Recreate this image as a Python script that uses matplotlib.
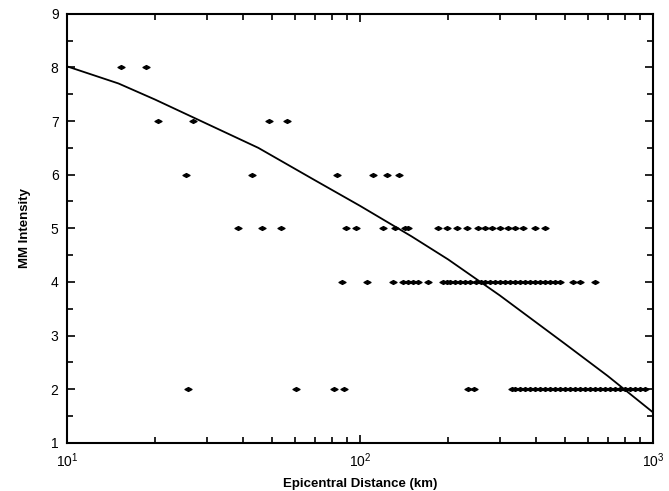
import numpy as np
import matplotlib.pyplot as plt
from matplotlib.path import Path
from matplotlib.ticker import LogLocator, MultipleLocator, FixedLocator

# --- observed intensities (distance in km) ---
r_int8 = [15.3, 18.6]
r_int7 = [20.4, 26.9, 48.8, 56.2]
r_int6 = [25.4, 42.7, 83.2, 111, 124, 136]
r_int5 = [38.5, 46.5, 53.6, 89.3, 96.6, 120, 132, 143, 146, 184, 199, 215, 232,
          253, 268, 283, 301, 321, 339, 361, 396, 429]
r_int4 = [87.1, 106, 130, 140, 146, 152, 158, 171, 192, 199, 203, 211, 220, 229,
          238, 248, 258, 268, 279, 290, 301, 313, 326, 339, 352, 366, 381, 396,
          412, 429, 446, 463, 482, 534, 564, 634]
r_int2 = [26.0, 60.3, 81.3, 87.9, 234, 246, 331, 339, 352, 366, 381, 396, 412,
          429, 446, 463, 482, 501, 521, 542, 564, 586, 610, 634, 659, 686, 713,
          742, 772, 803, 835, 868, 903, 939]

# --- attenuation curve ---
curve_r = [10, 15, 20, 30, 45, 70, 100, 150, 200, 300, 500, 700, 1000]
curve_i = [8.02, 7.70, 7.40, 6.95, 6.50, 5.90, 5.42, 4.85, 4.42, 3.75, 2.85, 2.25, 1.57]

rows = [(8, r_int8), (7, r_int7), (6, r_int6), (5, r_int5), (4, r_int4), (2, r_int2)]

plt.rcParams['font.family'] = ['Liberation Sans', 'DejaVu Sans']

fig = plt.figure(figsize=(6.69, 4.91), dpi=100)
ax = fig.add_axes([0.100, 0.098, 0.876, 0.874])

blob = Path([(-1, 0), (0, 0.55), (1, 0), (0, -0.55), (-1, 0)],
            [Path.MOVETO, Path.LINETO, Path.LINETO, Path.LINETO, Path.CLOSEPOLY])

for mmi, dists in rows:
    ax.plot(dists, [mmi] * len(dists), linestyle='none', marker=blob,
            markersize=5, color='black', clip_on=False)

ax.plot(curve_r, curve_i, color='black', lw=1.3)

ax.set_xscale('log')
ax.set_xlim(10, 1000)
ax.set_ylim(1, 9)
ax.yaxis.set_major_locator(MultipleLocator(1))
ax.yaxis.set_minor_locator(MultipleLocator(0.5))
ax.xaxis.set_major_locator(FixedLocator([10, 100, 1000]))
ax.xaxis.set_minor_locator(LogLocator(base=10, subs=np.arange(2, 10)))
ax.xaxis.set_minor_formatter(plt.NullFormatter())

ax.tick_params(which='both', direction='in', top=True, right=True, width=1.2)
ax.tick_params(which='major', length=6, labelsize=10, pad=6)
ax.tick_params(which='minor', length=4)
for s in ax.spines.values():
    s.set_linewidth(1.5)

ax.set_xlabel('Epicentral Distance (km)', fontsize=9.5, fontweight='bold', labelpad=6)
ax.set_ylabel('MM Intensity', fontsize=9.5, fontweight='bold', labelpad=14)

fig.savefig('out.png', dpi=100)
